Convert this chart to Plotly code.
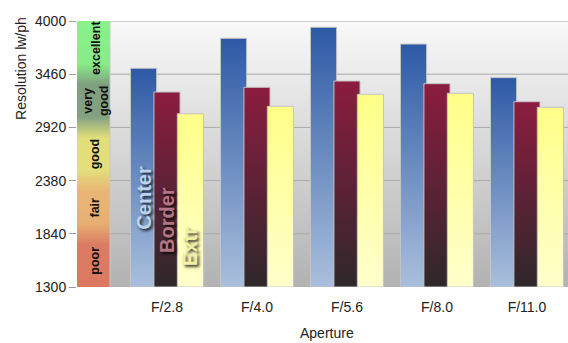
import plotly.graph_objects as go

# ---- data -------------------------------------------------------------
apertures = ["F/2.8", "F/4.0", "F/5.6", "F/8.0", "F/11.0"]
center = [3520, 3824, 3936, 3766, 3425]
border = [3279, 3327, 3391, 3364, 3181]
extr = [3059, 3134, 3256, 3266, 3124]
series_names = ["Center", "Border", "Extr"]

y_ticks = [1300, 1840, 2380, 2920, 3460, 4000]
rating_labels = ["poor", "fair", "good", "very<br>good", "excellent"]

# ---- styling ----------------------------------------------------------
FONT = "Liberation Sans, Arial, sans-serif"
Y_MIN, Y_MAX = y_ticks[0], y_ticks[-1]
X_LEFT, BAND_RIGHT, X_RIGHT = -1.0, -0.633, 4.456
BAR_W = 0.29
OFFSETS = [-0.26, 0.0, 0.26]
# (bottom colour, top colour) of each series' vertical gradient
GRADIENTS = [("#aabfdc", "#2d59a5"), ("#2e282b", "#8c1c40"), ("#ffffcc", "#ffff88")]
LABEL_COLORS = ["#bcd3ee", "#b27586", "#f2efa6"]
LABEL_BASES = [1858, 1625, 1493]

fig = go.Figure()

# plot-area background: light at the top, darker grey at the bottom
fig.add_trace(go.Scatter(
    x=[BAND_RIGHT, X_RIGHT, X_RIGHT, BAND_RIGHT, BAND_RIGHT],
    y=[Y_MIN, Y_MIN, Y_MAX, Y_MAX, Y_MIN],
    mode="lines", fill="toself", line=dict(width=0),
    fillgradient=dict(type="vertical",
                      colorscale=[[0, "#b2b2b2"], [1, "#f9f9f9"]]),
    hoverinfo="skip", showlegend=False))

# rating band on the left
band_scale = [
    [0.00, "#db7862"], [0.16, "#dc7c64"], [0.24, "#e7b072"], [0.36, "#e8b474"],
    [0.44, "#e3df7c"], [0.56, "#e1df7a"], [0.64, "#82a182"], [0.76, "#7f9f7f"],
    [0.84, "#88ec88"], [1.00, "#8af28a"],
]
fig.add_trace(go.Scatter(
    x=[X_LEFT, BAND_RIGHT, BAND_RIGHT, X_LEFT, X_LEFT],
    y=[Y_MIN, Y_MIN, Y_MAX, Y_MAX, Y_MIN],
    mode="lines", fill="toself", line=dict(width=0),
    fillgradient=dict(type="vertical", colorscale=band_scale),
    hoverinfo="skip", showlegend=False))

# horizontal grid lines across the plot area
gx, gy = [], []
for v in y_ticks[1:]:
    gx += [BAND_RIGHT, X_RIGHT, None]
    gy += [v, v, None]
fig.add_trace(go.Scatter(x=gx, y=gy, mode="lines",
                         line=dict(color="#a9a9a9", width=1),
                         hoverinfo="skip", showlegend=False))
fig.add_trace(go.Scatter(x=[BAND_RIGHT, BAND_RIGHT], y=[Y_MIN, Y_MAX], mode="lines",
                         line=dict(color="#c8c8c8", width=1),
                         hoverinfo="skip", showlegend=False))

# gradient-filled bars
for s, values in enumerate([center, border, extr]):
    lo, hi = GRADIENTS[s]
    for i, v in enumerate(values):
        x0 = i + OFFSETS[s] - BAR_W / 2
        x1 = i + OFFSETS[s] + BAR_W / 2
        fig.add_trace(go.Scatter(
            x=[x0, x1, x1, x0, x0], y=[Y_MIN, Y_MIN, v, v, Y_MIN],
            mode="lines", fill="toself",
            line=dict(color="#c4c4c4", width=1),
            fillgradient=dict(type="vertical", colorscale=[[0, lo], [1, hi]]),
            name=series_names[s], hoverinfo="x+y", showlegend=False))

annotations = []
# rating names inside the band
for k, txt in enumerate(rating_labels):
    annotations.append(dict(
        x=(X_LEFT + BAND_RIGHT) / 2 + 0.02, y=(y_ticks[k] + y_ticks[k + 1]) / 2,
        xref="x", yref="y", text=f"<b>{txt}</b>", textangle=-90,
        xanchor="center", yanchor="middle",
        showarrow=False, font=dict(family=FONT, size=12.5, color="#111111")))

# series names written up the first group of bars
for s, name in enumerate(series_names):
    annotations.append(dict(
        x=OFFSETS[s], y=LABEL_BASES[s], xref="x", yref="y",
        text=f"<b>{name}</b>", textangle=-90, xanchor="center", yanchor="bottom",
        showarrow=False,
        font=dict(family=FONT, size=20, color=LABEL_COLORS[s],
                  shadow="-2px 2px 3px rgba(0,0,0,0.8)")))

# axis titles
annotations.append(dict(x=-0.114, y=0.82, xref="paper", yref="paper",
                        xanchor="center", yanchor="middle",
                        text="Resolution lw/ph", textangle=-90, showarrow=False,
                        font=dict(family=FONT, size=14, color="#222222")))
annotations.append(dict(x=0.51, y=-0.172, xref="paper", yref="paper",
                        xanchor="center", yanchor="middle",
                        text="Aperture", showarrow=False,
                        font=dict(family=FONT, size=14, color="#222222")))

fig.update_layout(
    width=568, height=343,
    margin=dict(l=77, r=0, t=21, b=56),
    paper_bgcolor="white", plot_bgcolor="white",
    annotations=annotations,
    xaxis=dict(range=[X_LEFT, X_RIGHT], tickvals=list(range(len(apertures))),
               ticktext=apertures, showgrid=False, zeroline=False, ticks="",
               showline=False, fixedrange=True, ticklabelstandoff=10,
               tickfont=dict(family=FONT, size=14, color="#222222")),
    yaxis=dict(range=[Y_MIN, Y_MAX], tickvals=y_ticks, showgrid=False,
               zeroline=False, ticks="outside", ticklen=7, tickcolor="#9a9a9a",
               showline=False, fixedrange=True,
               tickfont=dict(family=FONT, size=14, color="#222222")),
)

fig.write_html("out.html")
